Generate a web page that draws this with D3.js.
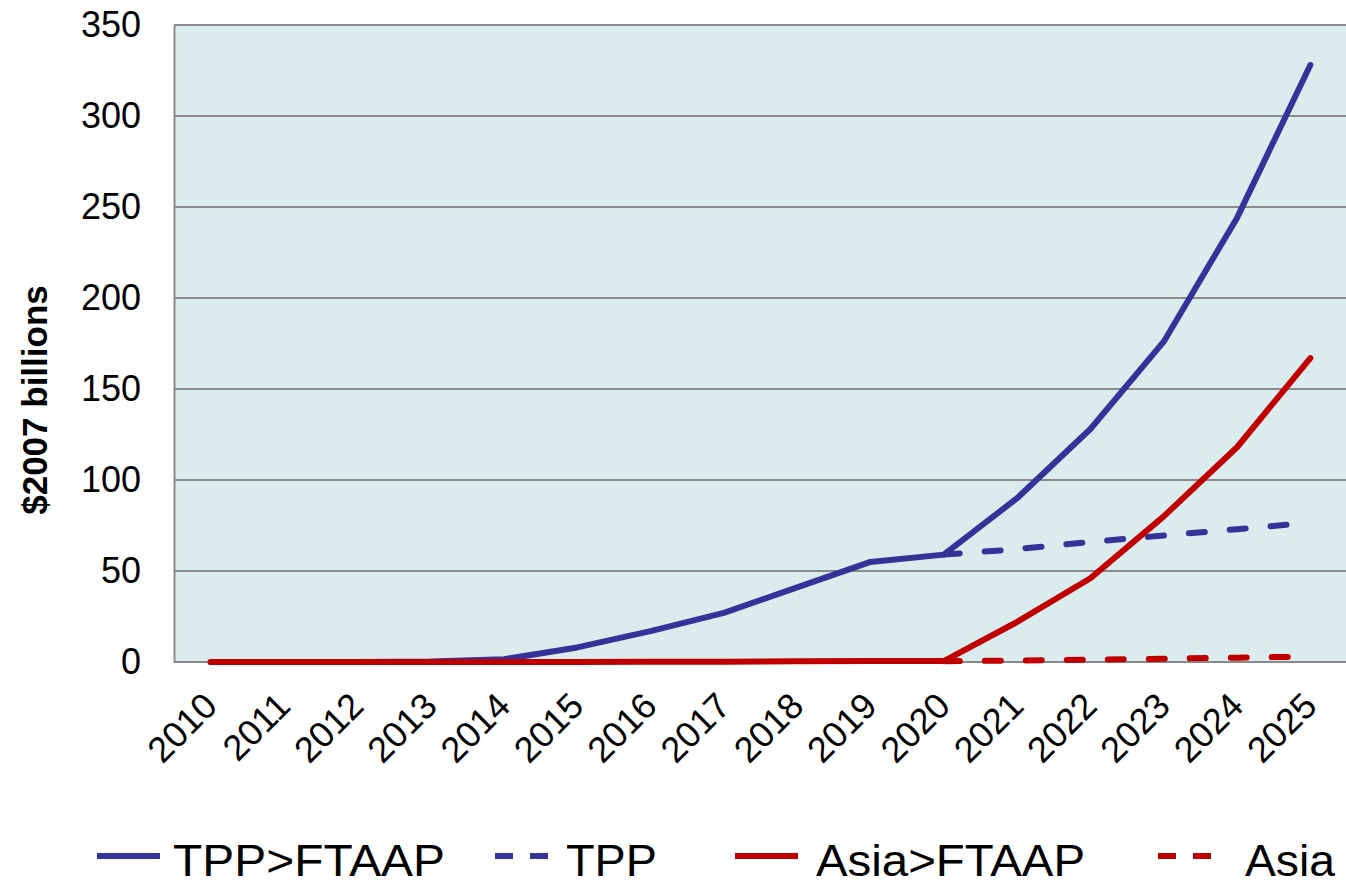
<!DOCTYPE html>
<html>
<head>
<meta charset="utf-8">
<script src="https://cdn.jsdelivr.net/npm/d3@7"></script>
<style>
  html, body { margin: 0; padding: 0; background: #fff; }
  svg { display: block; font-family: Arial, "Liberation Sans", sans-serif; }
</style>
</head>
<body>
<svg id="chart" width="1346" height="886"></svg>
<script>
// Years on the category axis
const years = ["2010","2011","2012","2013","2014","2015","2016","2017",
               "2018","2019","2020","2021","2022","2023","2024","2025"];

// Income gains, $2007 billions
const tppFtaap  = [0, 0, 0, 0.3, 1.5, 8, 17, 27, 41, 55, 59, 90, 128, 176, 244, 328];
const tppOnly   = [null, null, null, null, null, null, null, null, null, null, 59, 62, 66, 69.5, 73, 76.5];
const asiaFtaap = [0, 0, 0, 0, 0, 0, 0.1, 0.2, 0.4, 0.5, 0.5, 22, 46, 80, 118, 167];
const asiaOnly  = [null, null, null, null, null, null, null, null, null, null, 0.4, 0.8, 1.3, 1.8, 2.4, 3];

const yTicks = [0, 50, 100, 150, 200, 250, 300, 350];

const seriesNames = ["TPP>FTAAP", "TPP", "Asia>FTAAP", "Asia"];
const seriesValues = [tppFtaap, tppOnly, asiaFtaap, asiaOnly];
const seriesColors = ["#333399", "#333399", "#C00000", "#C00000"];
const seriesDashed = [false, true, false, true];

const svg = d3.select("#chart");
const plot = { left: 174, top: 25, right: 1347, bottom: 662 };

const x = d3.scalePoint().domain(years).range([plot.left, plot.right]).padding(0.5);
const y = d3.scaleLinear().domain([0, 350]).range([plot.bottom, plot.top]);

// Plot background
svg.append("rect")
  .attr("x", plot.left).attr("y", plot.top)
  .attr("width", plot.right - plot.left).attr("height", plot.bottom - plot.top)
  .attr("fill", "#DAECEE");

// Horizontal gridlines (including top border)
svg.append("g")
  .selectAll("line")
  .data(yTicks.filter(d => d > 0))
  .join("line")
  .attr("x1", plot.left).attr("x2", plot.right)
  .attr("y1", d => y(d)).attr("y2", d => y(d))
  .attr("stroke", "#8a8a8a").attr("stroke-width", 2);

// Y axis
const yAxis = svg.append("g")
  .attr("transform", `translate(${plot.left},0)`)
  .call(d3.axisLeft(y).tickValues(yTicks).tickSize(0).tickPadding(33));
yAxis.select(".domain").attr("stroke", "#8a8a8a").attr("stroke-width", 2);
yAxis.selectAll("text")
  .attr("font-size", 36).attr("fill", "#000")
  .attr("font-family", "Arial, 'Liberation Sans', sans-serif");

// X axis baseline
svg.append("line")
  .attr("x1", plot.left).attr("x2", plot.right)
  .attr("y1", plot.bottom).attr("y2", plot.bottom)
  .attr("stroke", "#8a8a8a").attr("stroke-width", 2);

// X axis labels, rotated
const xAxis = svg.append("g")
  .attr("transform", `translate(0,${plot.bottom})`)
  .call(d3.axisBottom(x).tickSize(0).tickPadding(0));
xAxis.select(".domain").remove();
xAxis.selectAll("text")
  .attr("font-size", 36).attr("fill", "#000")
  .attr("font-family", "Arial, 'Liberation Sans', sans-serif")
  .attr("text-anchor", "end")
  .attr("dy", null)
  .attr("transform", "translate(8,46) rotate(-45)");

// Y axis title
svg.append("text")
  .attr("transform", `translate(47,400) rotate(-90)`)
  .attr("text-anchor", "middle")
  .attr("font-size", 35).attr("font-weight", "bold").attr("fill", "#000")
  .text("$2007 billions");

// Series lines: dashed ones first, solids on top, red above blue
const line = d3.line()
  .defined(d => d.v !== null)
  .x(d => x(d.year))
  .y(d => y(d.v));

const drawOrder = [1, 3, 0, 2];
drawOrder.forEach(i => {
  const pts = years.map((yr, k) => ({ year: yr, v: seriesValues[i][k] }));
  svg.append("path")
    .datum(pts)
    .attr("d", line)
    .attr("fill", "none")
    .attr("stroke", seriesColors[i])
    .attr("stroke-width", 6)
    .attr("stroke-linecap", "round")
    .attr("stroke-linejoin", "round")
    .attr("stroke-dasharray", seriesDashed[i] ? "16,25" : null);
});

// Legend
const legendItems = [
  { lx: 97,   tx: 173,  tw: 272 },
  { lx: 495,  tx: 566,  tw: 91 },
  { lx: 735,  tx: 816,  tw: 269 },
  { lx: 1158, tx: 1245, tw: 90 }
];
const legend = svg.append("g");
seriesNames.forEach((name, i) => {
  const it = legendItems[i];
  const g = legend.append("g");
  if (seriesDashed[i]) {
    g.append("line")
      .attr("x1", it.lx).attr("x2", it.lx + 54)
      .attr("y1", 856).attr("y2", 856)
      .attr("stroke", seriesColors[i]).attr("stroke-width", 6)
      .attr("stroke-dasharray", "18,17");
  } else {
    g.append("line")
      .attr("x1", it.lx).attr("x2", it.lx + 63)
      .attr("y1", 856).attr("y2", 856)
      .attr("stroke", seriesColors[i]).attr("stroke-width", 6);
  }
  g.append("text")
    .attr("x", it.tx).attr("y", 876)
    .attr("font-size", 45).attr("fill", "#000")
    .attr("textLength", it.tw).attr("lengthAdjust", "spacingAndGlyphs")
    .text(name);
});
</script>
</body>
</html>
